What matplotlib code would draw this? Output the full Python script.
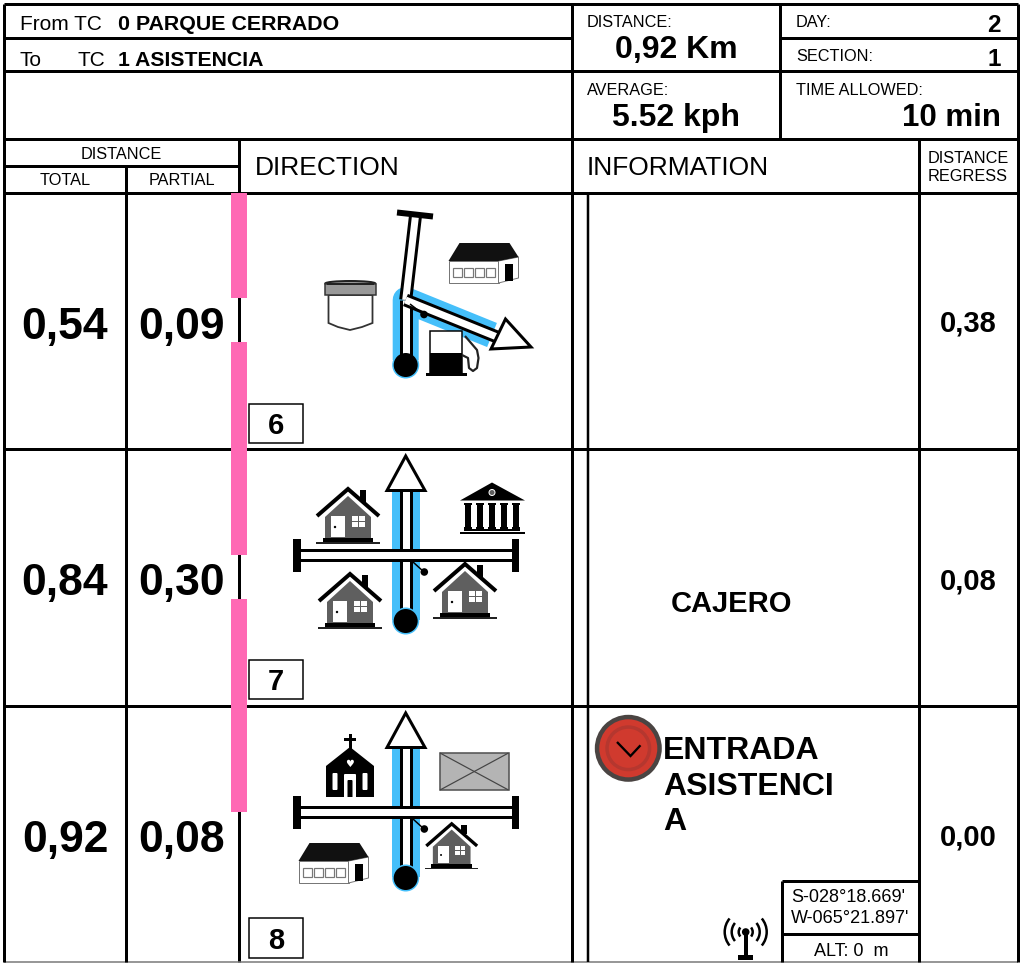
import matplotlib
matplotlib.use("Agg")
import matplotlib.pyplot as plt
from matplotlib.patches import Polygon, Rectangle, Circle, Arc, Ellipse, FancyBboxPatch

plt.rcParams['font.family'] = ['Liberation Sans', 'DejaVu Sans']

# Datos de la hoja de ruta
ORIGEN = "0 PARQUE CERRADO"
DESTINO = "1 ASISTENCIA"
DISTANCIA = "0,92 Km"
MEDIA = "5.52 kph"
TIEMPO = "10 min"
DIA = "2"
SECCION = "1"
TOTALES = ["0,54", "0,84", "0,92"]
PARCIALES = ["0,09", "0,30", "0,08"]
REGRESIVAS = ["0,38", "0,08", "0,00"]
NUMEROS = ["6", "7", "8"]
ENTRADA = ["ENTRADA", "ASISTENCI", "A"]
COORDENADAS = ["S-028°18.669'", "W-065°21.897'"]
ALTITUD = "ALT: 0  m"

AZUL = '#45BFFA'
ROSA = '#FF69B4'
GRIS = '#5F5F5F'

fig = plt.figure(figsize=(10.24, 9.63), dpi=100)
ax = fig.add_axes([0, 0, 1, 1])
ax.set_xlim(0, 1024)
ax.set_ylim(963, 0)
ax.axis('off')


def px(w):
    return w * 0.72


def linea(xs, ys, w=3, color='black', cap='butt', join='miter'):
    ax.plot(xs, ys, color=color, lw=px(w), solid_capstyle=cap,
            solid_joinstyle=join, zorder=2)


def rect(x0, y0, x1, y1, color='black', edge='none', w=0):
    ax.add_patch(Rectangle((x0, y0), x1 - x0, y1 - y0, facecolor=color,
                           edgecolor=edge, lw=px(w), zorder=2))


def poli(puntos, color='black', edge='none', w=0):
    ax.add_patch(Polygon(puntos, closed=True, facecolor=color, edgecolor=edge,
                         lw=px(w), zorder=2, joinstyle='miter'))


def circulo(x, y, r, color='black', edge='none', w=0):
    ax.add_patch(Circle((x, y), r, facecolor=color, edgecolor=edge, lw=px(w), zorder=2))


def texto(x, y, s, size, bold=False, ha='left'):
    ax.text(x, y, s, fontsize=size, fontweight='bold' if bold else 'normal',
            ha=ha, va='baseline', color='black', zorder=4)


def casa(cx, cy, s=1.0):
    def T(pts):
        return [(cx + s * a, cy + s * b) for a, b in pts]
    rect(cx + s * 11.7, cy + s * 2, cx + s * 18.3, cy + s * 14)
    poli(T([(-23, 29), (0, 8), (23, 29), (23, 50), (-23, 50)]), GRIS)
    r = T([(-31, 28), (0, 1), (31, 28)])
    linea([p[0] for p in r], [p[1] for p in r], 4 * s)
    rect(cx - s * 16.7, cy + s * 28, cx - s * 2.7, cy + s * 49, 'white')
    circulo(cx - s * 13, cy + s * 39, 1.2 * s)
    for wx in (4.3, 11):
        for wy in (28, 34):
            rect(cx + s * wx, cy + s * wy, cx + s * (wx + 5.5), cy + s * (wy + 4.7), 'white')
    rect(cx - s * 25, cy + s * 50, cx + s * 25, cy + s * 54.5)
    rect(cx - s * 32, cy + s * 54.5, cx + s * 32, cy + s * 56.5, '#222222')


def granero(x, y):
    # x, y: esquina superior izquierda del frente
    poli([(x, y), (x + 50, y), (x + 50, y + 22), (x, y + 22)], 'white', '#777777', 1)
    poli([(x + 50, y), (x + 70, y - 4), (x + 70, y + 17), (x + 50, y + 22)], 'white', '#777777', 1)
    poli([(x, y), (x + 11, y - 18), (x + 61, y - 18), (x + 70, y - 4), (x + 50, y)], '#111111')
    for i in range(4):
        rect(x + 4.5 + i * 11, y + 7, x + 13 + i * 11, y + 16, 'white', '#777777', 1.2)
    rect(x + 56, y + 3, x + 64, y + 20)


def banco(x, y):
    # x, y: vertice del fronton
    poli([(x, y), (x - 32, y + 18), (x + 33, y + 18)])
    circulo(x, y + 10, 3, GRIS, 'white', 1)
    for dx in (-24, -12, 0, 12, 24):
        rect(x + dx - 2.7, y + 21, x + dx + 2.7, y + 47)
        rect(x + dx - 4, y + 21, x + dx + 4, y + 23)
        rect(x + dx - 4, y + 45, x + dx + 4, y + 47)
    rect(x - 28, y + 47, x + 28, y + 49)
    rect(x - 32, y + 50, x + 33, y + 52)


def iglesia(x, y):
    # x, y: arranque del techo arriba al centro
    rect(x - 1.5, y - 13, x + 1.5, y + 3)
    rect(x - 6, y - 9, x + 6, y - 6)
    poli([(x, y), (x + 24, y + 19), (x + 24, y + 50), (x - 24, y + 50), (x - 24, y + 19)])
    ax.text(x, y + 20, "♥", color='white', fontsize=7, ha='center', va='baseline', zorder=2,
            family='DejaVu Sans')
    for dx in (-15, 15):
        ax.add_patch(FancyBboxPatch((x + dx - 1.5, y + 27), 3, 15,
                                    boxstyle='round,pad=1', facecolor='white',
                                    edgecolor='none', zorder=2))
    ax.add_patch(FancyBboxPatch((x - 5, y + 28), 10, 24, boxstyle='round,pad=1',
                                facecolor='white', edgecolor='none', zorder=2))
    ax.add_patch(FancyBboxPatch((x - 1.5, y + 34), 3, 16, boxstyle='round,pad=1',
                                facecolor='black', edgecolor='none', zorder=2))
    rect(x - 10, y + 50, x + 10, y + 53, 'white')


def sobre(x0, y0, x1, y1):
    rect(x0, y0, x1, y1, '#B4B4B4', '#555555', 1.6)
    linea([x0, x1], [y0, y1], 1.2, '#444444')
    linea([x0, x1], [y1, y0], 1.2, '#444444')


def cubo():
    poli([(328.5, 295), (328.5, 323), (338, 327), (350, 330), (362, 327), (372.5, 323), (372.5, 295)],
         'white', '#333333', 1.8)
    ax.add_patch(Ellipse((350.3, 283.5), 50, 5, facecolor='#999999', edgecolor='#222222',
                         lw=px(2), zorder=2))
    rect(325, 284, 375.5, 295, '#999999', '#333333', 1.5)
    linea([327, 374], [284, 284], 2, '#222222')


def surtidor():
    rect(430, 331, 462, 373, 'white', 'black', 1.5)
    rect(430, 353, 462, 373)
    rect(426, 373, 467, 376.5)
    linea([465, 477, 478.5, 477, 473, 469, 468, 462],
          [336, 350, 358, 368, 371, 368, 358, 355], 2.2, '#222222', join='round')


def carretera(xs, ys):
    linea(xs, ys, 13)
    linea(xs, ys, 7, 'white')


def cruce(y):
    # ruta azul, carretera vertical y transversal
    base = y + 40
    linea([405.7, 405.7], [base, y + 170], 28, AZUL)
    carretera([405.7, 405.7], [base, y + 160])
    circulo(405.7, y + 171, 13.5, AZUL)
    circulo(405.7, y + 171, 12)
    poli([(405.7, y + 6), (387, y + 40.5), (425, y + 40.5)], 'white', 'black', 3)
    carretera([300, 512], [y + 105, y + 105])
    rect(293, y + 89, 300.5, y + 122)
    rect(512, y + 89, 519, y + 122)
    linea([413, 424], [y + 112, y + 122], 1.5)
    circulo(424.3, y + 122, 3.8)


# Fila 1: bifurcacion
linea([405.7, 405.7, 492], [360, 300, 335], 26, AZUL, join='round')
circulo(405.7, 365, 13.5, AZUL)
carretera([405.7, 405.7], [360, 300])
carretera([405.7, 415.7], [300, 214])
linea([397, 433], [212.5, 216.5], 6)
carretera([405.5, 497], [300, 337])
poli([(505.5, 319), (531, 347), (491, 349)], 'white', 'black', 3)
linea([410, 423], [304, 314], 1.5)
circulo(424, 314.5, 3.8)
circulo(405.7, 365, 12)
cubo()
surtidor()
granero(448.5, 261)

# Fila 2
cruce(450)
casa(348, 488)
casa(350, 573)
casa(465, 563)
banco(492, 482.5)

# Fila 3
cruce(707)
iglesia(350, 747)
sobre(440, 753, 508.5, 790)
granero(298.5, 861)
casa(451.7, 823, 0.82)

# Rejilla
linea([239, 239], [139, 962], 3)
for y in [38, 71]:
    linea([4, 572], [y, y], 3)
linea([780, 1018], [38, 38], 3)
linea([572, 1018], [71, 71], 3)
for y in [4, 139, 193, 449, 706]:
    linea([4, 1018], [y, y], 3)
linea([4, 239], [166, 166], 3)
linea([4, 1018], [962, 962], 1.5, '#777777')
linea([4, 4], [4, 962], 3)
linea([1018, 1018], [4, 962], 3)
linea([572, 572], [4, 962], 3)
linea([587.5, 587.5], [193, 962], 2.5)
linea([780, 780], [4, 139], 3)
linea([919, 919], [139, 962], 3)
linea([126, 126], [166, 962], 3)

# Marcas rosas sobre la linea de direccion
for y0, y1 in [(193, 298), (342, 555), (599, 812)]:
    rect(231, y0, 247, y1, ROSA)

# Cabecera
texto(20, 30, "From TC", 15)
texto(118, 30, ORIGEN, 15.4, True)
texto(20, 66, "To", 15)
texto(77, 66, "TC", 15)
texto(118, 66, DESTINO, 15.3, True)
texto(587, 27, "DISTANCE:", 11.7)
texto(676, 58, DISTANCIA, 23, True, 'center')
texto(796, 27, "DAY:", 11.7)
texto(1001, 32, DIA, 17.5, True, 'right')
texto(796, 61, "SECTION:", 11.7)
texto(1001, 66, SECCION, 17.5, True, 'right')
texto(587, 95, "AVERAGE:", 11.7)
texto(676, 126, MEDIA, 23, True, 'center')
texto(796, 95, "TIME ALLOWED:", 11.7)
texto(1001, 126, TIEMPO, 22.5, True, 'right')
texto(121, 159, "DISTANCE", 11.7, ha='center')
texto(65, 185, "TOTAL", 11.7, ha='center')
texto(182, 185, "PARTIAL", 11.7, ha='center')
texto(255, 175, "DIRECTION", 19)
texto(587, 175, "INFORMATION", 19)
texto(968, 163, "DISTANCE", 11.7, ha='center')
texto(968, 181, "REGRESS", 11.7, ha='center')

# Filas de datos
filas = [339, 595, 852]
regres = [332, 589, 846]
cajas = [(404, 443), (660, 699), (918, 958)]
for i in range(3):
    texto(65, filas[i], TOTALES[i], 32, True, 'center')
    texto(182, filas[i], PARCIALES[i], 32, True, 'center')
    texto(968.5, regres[i], REGRESIVAS[i], 21, True, 'center')
    y0, y1 = cajas[i]
    rect(249, y0, 303, y1, 'white', 'black', 1.5)
    ax.patches[-1].set_zorder(3)
    texto(276, y1 - 9, NUMEROS[i], 21, True, 'center')

texto(731, 612, "CAJERO", 21, True, 'center')
for y, s in zip([759, 795, 830], ENTRADA):
    texto(663, y, s, 23, True)

# Boton rojo
circulo(628.3, 748.3, 33.5, '#4A4442')
circulo(628.3, 748.3, 29, '#D03A2E')
circulo(628.3, 748.3, 23, '#B5372F')
circulo(628.3, 748.3, 19.5, '#D03A2E')
linea([617, 630.5, 640.5], [742, 756, 745.3], 2.3)

# Antena
circulo(745.7, 932, 3.8)
linea([745.7, 745.7], [932, 956], 4)
rect(738, 955, 753, 960)
for r in (7, 14, 21):
    for ang in (0, 180):
        ax.add_patch(Arc((745.7, 932), 2 * r, 2 * r, theta1=ang - 40, theta2=ang + 40,
                         lw=px(2.5), color='black', zorder=2))

# Caja de coordenadas
linea([782, 919], [881, 881], 3)
linea([782, 919], [934, 934], 3)
linea([782, 782], [881, 962], 3)
texto(791, 902, COORDENADAS[0], 13)
texto(791, 923, COORDENADAS[1], 13)
texto(851, 956, ALTITUD, 13, ha='center')

fig.savefig('out.png', dpi=100)
